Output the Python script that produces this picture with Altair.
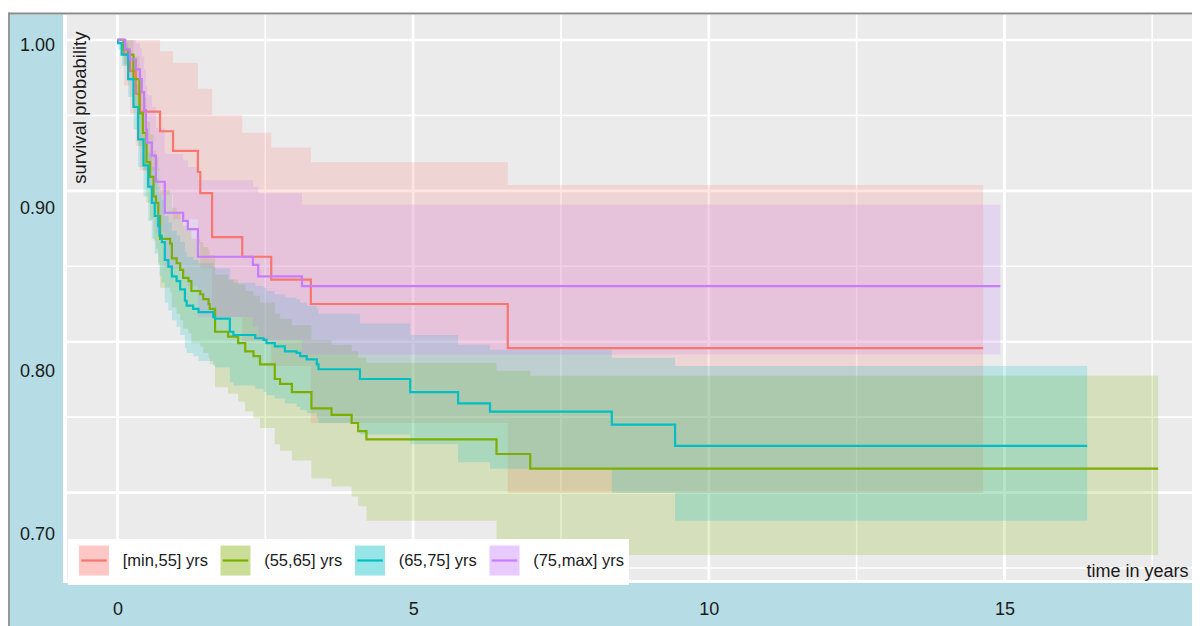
import altair as alt
import pandas as pd

GROUPS = ["[min,55] yrs", "(55,65] yrs", "(65,75] yrs", "(75,max] yrs"]
COLORS = ["#F8766D", "#7CAE00", "#00BFC4", "#C77CFF"]

# ---- survival estimates (time in years, probability) ----
red_t = [0, 0.11, 0.21, 0.31, 0.38, 0.72, 0.94, 1.36, 1.40, 1.60, 2.11, 2.60, 3.27, 6.60, 14.64]
red_s = [1.0, 0.991, 0.981, 0.967, 0.956, 0.944, 0.932, 0.919, 0.906, 0.879, 0.867, 0.853, 0.838, 0.811, 0.811]
red_lo = [1.0, 0.972, 0.955, 0.935, 0.920, 0.905, 0.890, 0.875, 0.860, 0.830, 0.815, 0.800, 0.765, 0.722, 0.722]
red_hi = [1.0, 1.0, 1.0, 1.0, 1.0, 0.993, 0.986, 0.970, 0.970, 0.954, 0.943, 0.934, 0.925, 0.911, 0.911]

green_t = [0, 0.10, 0.18, 0.27, 0.37, 0.43, 0.49, 0.55, 0.61, 0.65, 0.69, 0.72, 0.89, 0.92, 1.00,
           1.06, 1.11, 1.20, 1.25, 1.40, 1.45, 1.54, 1.56, 1.65, 1.87, 2.04, 2.16, 2.30, 2.41, 2.66,
           2.75, 2.95, 3.28, 3.62, 3.96, 4.07, 4.21, 6.41, 6.98, 17.60]
green_s = [1.0, 0.994, 0.991, 0.976, 0.955, 0.943, 0.925, 0.916, 0.904, 0.900, 0.892, 0.878, 0.875, 0.866, 0.863,
           0.859, 0.854, 0.852, 0.846, 0.844, 0.841, 0.838, 0.835, 0.821, 0.818, 0.814, 0.809, 0.806, 0.801, 0.792,
           0.789, 0.784, 0.774, 0.770, 0.765, 0.760, 0.755, 0.746, 0.737, 0.737]
green_lo = [1.0, 0.985, 0.980, 0.960, 0.935, 0.920, 0.900, 0.890, 0.877, 0.872, 0.863, 0.848, 0.845, 0.836, 0.832,
            0.828, 0.823, 0.820, 0.814, 0.812, 0.808, 0.805, 0.801, 0.787, 0.783, 0.778, 0.772, 0.768, 0.762, 0.752,
            0.748, 0.742, 0.731, 0.726, 0.720, 0.714, 0.705, 0.684, 0.684, 0.684]
green_hi = [1.0, 1.0, 1.0, 0.990, 0.975, 0.965, 0.950, 0.942, 0.932, 0.928, 0.921, 0.908, 0.905, 0.897, 0.894,
            0.890, 0.886, 0.884, 0.878, 0.876, 0.873, 0.871, 0.868, 0.856, 0.853, 0.850, 0.846, 0.843, 0.839, 0.832,
            0.829, 0.825, 0.816, 0.813, 0.809, 0.805, 0.802, 0.797, 0.794, 0.794]

cyan_t = [0, 0.01, 0.07, 0.18, 0.27, 0.35, 0.44, 0.52, 0.58, 0.63, 0.69, 0.71, 0.75, 0.80, 0.86,
          0.92, 1.00, 1.06, 1.14, 1.17, 1.28, 1.37, 1.62, 1.65, 1.90, 1.96, 2.33, 2.47, 2.52, 2.66,
          2.83, 3.03, 3.09, 3.20, 3.37, 3.40, 4.10, 4.95, 5.76, 6.30, 8.36, 9.43, 16.40]
cyan_s = [1.0, 0.998, 0.991, 0.976, 0.959, 0.939, 0.923, 0.910, 0.900, 0.892, 0.886, 0.880, 0.876, 0.865, 0.861,
          0.855, 0.852, 0.847, 0.840, 0.837, 0.835, 0.833, 0.830, 0.829, 0.821, 0.819, 0.817, 0.816, 0.814, 0.812,
          0.809, 0.808, 0.806, 0.804, 0.801, 0.798, 0.792, 0.784, 0.777, 0.772, 0.764, 0.751, 0.751]
cyan_lo = [1.0, 0.994, 0.984, 0.965, 0.945, 0.922, 0.904, 0.889, 0.878, 0.869, 0.862, 0.855, 0.851, 0.839, 0.834,
           0.828, 0.824, 0.819, 0.811, 0.808, 0.806, 0.803, 0.800, 0.799, 0.790, 0.788, 0.786, 0.784, 0.782, 0.780,
           0.777, 0.775, 0.773, 0.771, 0.768, 0.765, 0.758, 0.752, 0.741, 0.737, 0.722, 0.705, 0.705]
cyan_hi = [1.0, 1.0, 0.998, 0.987, 0.973, 0.956, 0.942, 0.931, 0.922, 0.915, 0.910, 0.905, 0.902, 0.892, 0.888,
           0.883, 0.880, 0.876, 0.870, 0.867, 0.865, 0.863, 0.861, 0.860, 0.853, 0.851, 0.849, 0.848, 0.846, 0.844,
           0.842, 0.841, 0.839, 0.837, 0.835, 0.832, 0.826, 0.819, 0.813, 0.810, 0.805, 0.800, 0.800]

purple_t = [0, 0.13, 0.21, 0.31, 0.38, 0.41, 0.45, 0.48, 0.50, 0.58, 0.65, 0.80, 1.11, 1.19, 1.36, 2.29, 2.38, 3.12, 14.93]
purple_s = [1.0, 0.994, 0.988, 0.982, 0.976, 0.968, 0.957, 0.945, 0.937, 0.929, 0.913, 0.894, 0.889, 0.884, 0.867, 0.862, 0.855, 0.849, 0.849]
purple_lo = [1.0, 0.985, 0.975, 0.966, 0.957, 0.947, 0.933, 0.919, 0.910, 0.900, 0.882, 0.860, 0.855, 0.849, 0.830, 0.824, 0.816, 0.807, 0.807]
purple_hi = [1.0, 1.0, 1.0, 0.998, 0.995, 0.990, 0.982, 0.972, 0.966, 0.959, 0.946, 0.930, 0.926, 0.922, 0.914, 0.910, 0.906, 0.899, 0.899]

X_TICKS = [0, 5, 10, 15]
X_MINOR = [2.5, 7.5, 12.5, 17.5]
Y_TICKS = [0.70, 0.80, 0.90, 1.00]
GRID_ROWS_MAJOR = [0, 2, 4, 6]
GRID_ROWS_MINOR = [1, 3, 5, 7]

rows = []
series = [(red_t, red_s, red_lo, red_hi), (green_t, green_s, green_lo, green_hi),
          (cyan_t, cyan_s, cyan_lo, cyan_hi), (purple_t, purple_s, purple_lo, purple_hi)]
for g, (t, s, lo, hi) in zip(GROUPS, series):
    for i in range(len(t)):
        rows.append({"group": g, "line_group": g, "t": t[i], "s": s[i], "lo": lo[i], "hi": hi[i], "order": i})
df = pd.DataFrame(rows)

W, H = 1125, 565
FONT = "Liberation Sans"
TXT = "#1a1a1a"
BLUE = "#B6DCE5"

xs = alt.Scale(domain=[-0.854, 18.172], nice=False, zero=False)
ys = alt.Scale(domain=[0.6687, 1.0153], nice=False, zero=False)

xaxis = alt.Axis(values=X_TICKS, format="d", title="time in years", labelFont=FONT, labelFontSize=18,
                 labelColor=TXT, labelPadding=29, labelBaseline="middle", ticks=False, tickSize=0,
                 domain=False, grid=False, labelFlush=False, labelOverlap=False, zindex=2,
                 titleFont=FONT, titleFontSize=18, titleFontWeight="normal", titleColor=TXT,
                 titleX=1121, titleY=-9, titleAlign="right", titleBaseline="middle")
yaxis = alt.Axis(values=Y_TICKS, format=".2f", title="survival probability", labelFont=FONT, labelFontSize=18,
                 labelColor=TXT, labelPadding=12.5, labelOffset=5.5, ticks=False, tickSize=0,
                 domain=False, grid=False, labelFlush=False, labelOverlap=False, zindex=2,
                 titleFont=FONT, titleFontSize=18.5, titleFontWeight="normal", titleColor=TXT,
                 titleX=12, titleY=16, titleAngle=270, titleAlign="right", titleBaseline="middle")

one = pd.DataFrame({"a": [0]})
blue_left = alt.Chart(one).mark_rect(color=BLUE).encode(
    x=alt.value(-57), x2=alt.value(-4), y=alt.value(-0.5), y2=alt.value(611))
blue_bottom = alt.Chart(one).mark_rect(color=BLUE).encode(
    x=alt.value(-57), x2=alt.value(W), y=alt.value(568), y2=alt.value(611))
border_top = alt.Chart(one).mark_rule(color="#8c8c8c", strokeWidth=1.8).encode(
    x=alt.value(-58.5), x2=alt.value(W), y=alt.value(-1.5))
border_left = alt.Chart(one).mark_rule(color="#8c8c8c", strokeWidth=1.8).encode(
    x=alt.value(-58), y=alt.value(-2.4), y2=alt.value(611))

gv = pd.DataFrame({"x": X_TICKS + X_MINOR, "w": [2.8] * 4 + [1.6] * 4})
grid_v = alt.Chart(gv).mark_rule(color="white").encode(
    x=alt.X("x:Q", scale=xs, axis=xaxis),
    strokeWidth=alt.StrokeWidth("w:Q", scale=None, legend=None))

gh = pd.DataFrame({"k": GRID_ROWS_MAJOR + GRID_ROWS_MINOR, "w": [2.6] * 4 + [1.6] * 4})
grid_h = alt.Chart(gh).mark_rule(color="white").encode(
    y=alt.Y("k:Q", scale=alt.Scale(domain=[-0.3314, 7.159], reverse=True, nice=False, zero=False), axis=None),
    strokeWidth=alt.StrokeWidth("w:Q", scale=None, legend=None))

LEG_COMMON = dict(title=None, orient="none", legendX=1, legendY=524, direction="horizontal",
                  symbolSize=900, symbolStrokeWidth=2.2, labelFont=FONT, labelFontSize=16.5,
                  labelOffset=12.2, columnPadding=6.5, padding=5, symbolOffset=4.5, labelLimit=300)
leg_fill = alt.Legend(symbolType="square", symbolOpacity=0.4, symbolStrokeColor="transparent",
                      labelColor=TXT, fillColor="white", zindex=1, **LEG_COMMON)
leg_line = alt.Legend(symbolType="M-0.85,0H0.85", symbolFillColor="transparent", labelOpacity=0,
                      zindex=2, **LEG_COMMON)

bands = alt.Chart(df).mark_area(interpolate="step-after", opacity=0.2).encode(
    x=alt.X("t:Q", scale=xs, axis=xaxis),
    y=alt.Y("lo:Q", scale=ys, axis=yaxis),
    y2="hi:Q",
    fill=alt.Fill("group:N", scale=alt.Scale(domain=GROUPS, range=COLORS), legend=leg_fill))

lines = alt.Chart(df).mark_line(interpolate="step-after", strokeWidth=2.2).encode(
    x=alt.X("t:Q", scale=xs, axis=xaxis),
    y=alt.Y("s:Q", scale=ys, axis=yaxis),
    stroke=alt.Stroke("line_group:N", scale=alt.Scale(range=COLORS), legend=leg_line, sort=GROUPS),
    order="order:Q")

inner = alt.layer(blue_left, blue_bottom, border_top, border_left, grid_v, bands, lines)
chart = alt.layer(grid_h, inner).resolve_scale(y="independent").properties(
    width=W, height=H, autosize="none",
    padding={"left": 59, "top": 7, "right": 0, "bottom": 46},
    background="white",
).configure_view(fill="#EBEBEB", stroke=None)

chart.save("out.html", embed_options={"renderer": "svg", "actions": False})
